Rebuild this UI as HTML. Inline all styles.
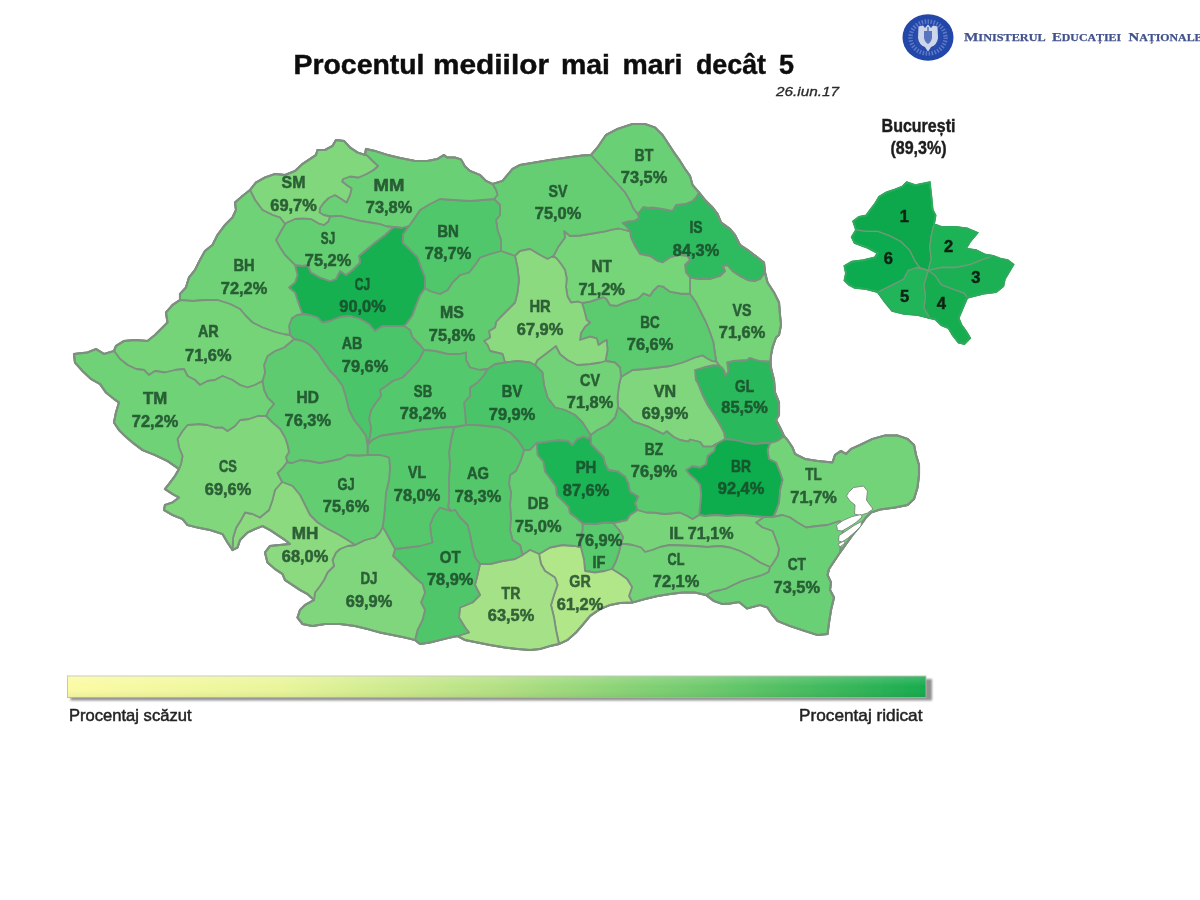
<!DOCTYPE html>
<html lang="ro"><head><meta charset="utf-8"><title>Procentul mediilor mai mari decât 5</title>
<style>html,body{margin:0;padding:0;background:#fff}body{width:1200px;height:900px;position:relative;overflow:hidden;font-family:"Liberation Sans",sans-serif}</style>
</head><body>
<svg width="1200" height="900" viewBox="0 0 1200 900" style="position:absolute;left:0;top:0">
<defs><filter id="bl" x="-5%" y="-5%" width="110%" height="110%"><feGaussianBlur stdDeviation="0.6"/></filter><filter id="bl2" x="-5%" y="-30%" width="110%" height="160%"><feGaussianBlur stdDeviation="1.2"/></filter><linearGradient id="lg" x1="0" y1="0" x2="1" y2="0"><stop offset="0" stop-color="#fbfba4"/><stop offset="0.25" stop-color="#e9f59a"/><stop offset="0.5" stop-color="#b4e083"/><stop offset="0.75" stop-color="#6cc96c"/><stop offset="1" stop-color="#17ab4e"/></linearGradient><linearGradient id="sh" x1="0" y1="0" x2="0" y2="1"><stop offset="0" stop-color="#ffffff" stop-opacity="0.18"/><stop offset="0.5" stop-color="#ffffff" stop-opacity="0"/><stop offset="1" stop-color="#000000" stop-opacity="0.06"/></linearGradient></defs>
<g filter="url(#bl)">
<polygon points="74,354 87.5,352.5 96,349 104,354 114,351 116,346 124,341 135,340 147.5,341 155,335 161,329 167.5,322.5 166,312.5 172.5,305 180,300 180,294 186,287.5 189,277.5 195,270 200,260 205,251 212.5,245 217.5,235 225,225 232.5,217.5 236,210 235,202.5 242.5,196 250,190 256,182.5 265,177.5 275,174 285,175 295,171 302.5,164 310,159 316,155 317.5,150 325,150 332.5,146 336,140 344,141 350,147.5 357.5,152.5 365,155 366,149 375,151 387.5,155 400,158 415,161 427.5,161 437.5,159 444,155 447,157.5 455,157.5 461,159.5 465,166.5 470,171 480,175 486,181 492.5,184 502.5,181 507.5,175 512.5,169 520,165 535,162.5 550,160 567.5,157.5 582.5,155.5 591,155 597.5,147.5 606,135 617.5,129 632.5,124 645,124 655,127.5 662.5,135 667.5,142.5 674,152.5 680,161 685,169 690,176 692.5,185 699,192.5 705,200 712.5,207.5 717.5,214 721,222.5 730,229 735,235 740,245 749,251 757.5,257.5 764,262.5 765,272.5 767.5,282.5 774,292.5 779,302.5 780,315 781,325 779,335 776,337.5 772.5,347.5 771,355 770.5,361.5 771.2,369 774,380 775,392.5 779,402.5 779,415 776,420 780,427.5 784,436 787.5,440 792.5,447.5 795,454 805,459 817.5,461 832.5,462.5 835,455 841,451 846,454 851,449 860,445 872.5,439 885,435.5 897.5,435.5 907.5,439 914,445 916,455 919,465 919,475 917.5,487.5 914,499 907.5,505 895,507.5 880,509.5 871,512.5 866,517.5 860,526 852.5,535 846,544 840,552.5 835,560 829,569 827.5,575 831,582.5 830,590 834,597.5 831,610 829,622.5 827.5,634 817.5,635 805,631 790,626 777.5,621 772.5,615 767.5,607.5 760,605 747,608.5 739,602 730,603.5 722.5,604 714,601 706,595 695,592.5 682.5,592.5 670,594 657.5,596 645,599 632.5,602.5 620,603 610,605 600,609 590,616 582.5,625 576,632.5 567.5,640 559,644 550,646 540,649 530,650 517.5,649 505,647.5 490,645 477.5,642.5 465,640 457.5,636 450,637.5 440,640 430,642.5 420,644 415,640 405,637.5 392.5,635 380,632.5 367.5,629 355,626 340,624 325,624 312.5,626 302.5,624 297.5,617.5 300,610 305,605 314,600 307.5,594 300,590 292.5,585 285,580 282.5,574 275,569 267.5,562.5 265,552.5 270,546 280,545 290,544 285,540 277.5,535 270,530 262.5,526 255,529 247.5,532.5 240,540 237.5,547.5 232.5,550 227.5,542.5 222.5,534 210,530 197.5,527.5 187.5,525 182.5,519 172.5,515 164,510 165,505 172.5,502.5 179,497.5 172.5,494 165,489 169,484 175,476 179,469 167.5,461 155,455 142.5,450 132.5,442.5 125,436 119,430 114,422.5 116,412.5 119,402.5 114,399 106,392.5 100,384 91,379 82.5,371 75,362.5" fill="#6fce77" stroke="#7d907f" stroke-width="2"/>
<g stroke="#7d907f" stroke-width="1.8" stroke-linejoin="round">
<polygon points="770,443 777,441 784,436 787.5,440 792.5,447.5 795,454 805,459 817.5,461 832.5,462.5 835,455 841,451 846,454 851,449 860,445 872.5,439 885,435.5 897.5,435.5 907.5,439 914,445 916,455 919,465 919,475 917.5,487.5 914,499 907.5,505 895,507.5 880,509.5 871,512.5 866,517.5 860,526 852.5,535 846,544 840,552.5 841,540 843,530 840,521 835,522.5 827.5,525 817.5,526 806,527.5 797.5,522.5 790,517.5 782.5,515 773,517 776,511 779,502.5 780,490 782.5,480 780,472.5 776,462.5 769,459 767.5,450" fill="#73d378"/>
<polygon points="773,517 782.5,515 790,517.5 797.5,522.5 806,527.5 817.5,526 827.5,525 835,522.5 840,521 843,530 841,540 840,552.5 835,560 829,569 827.5,575 831,582.5 830,590 834,597.5 831,610 829,622.5 827.5,634 817.5,635 805,631 790,626 777.5,621 772.5,615 767.5,607.5 760,605 747,608.5 739,602 730,603.5 722.5,604 714,601 706,595 713.3,591.3 720,590 726.7,588.3 733,585 740,581.7 748,579 756.7,576.7 762,575 768.5,572 770,567 772.5,564 777.5,556 779,549 776,540 772.5,531 762.5,527.5 756,522.5 764,517" fill="#6bd074"/>
<polygon points="719,365.3 722.8,368.5 724.5,371.5 725.3,375.8 728.3,371.7 727.5,365 727,362.3 733.3,361 746.7,360 750,357.8 755,359.5 760,361 770.5,361.5 771.2,369 774,380 775,392.5 779,402.5 779,415 776,420 780,427.5 784,436 777,441 770,443 765,443 755,444 745,442.5 735,440 725,439 724,432.5 720,425 714,415 707.5,405 702.5,395 697.5,382.5 695.8,380 695,370 703.3,367.5 713.3,365.2" fill="#29b85b"/>
<polygon points="725,439 735,440 745,442.5 755,444 765,443 770,443 767.5,450 769,459 776,462.5 780,472.5 782.5,480 780,490 779,502.5 776,511 773,517 764,517 752.5,516 740,515 727.5,516 715,515 705,516 699,515 700,506 701,495 700,485 695,479 690,475 686,470 692.5,466 700,467.5 706,464 707.5,456 714,451 716,444" fill="#0eac4e"/>
<polygon points="637.5,510 646.5,512.5 652.5,512.5 665,514 680,512.5 687.5,516 692.5,519 699,515 705,516 715,515 727.5,516 740,515 752.5,516 764,517 756,522.5 762.5,527.5 772.5,531 776,540 779,549 777.5,556 772.5,564 770,567 760,562.5 750,556 740,551 730,547.5 720,546 707.5,547 695,546 682.5,545.5 670,545 660,547 652.5,550 645,552 641,547.5 632.5,545 625,544 621,544 623,537 619,530 613,523 620,521.5 626.7,520 630,515" fill="#77d479"/>
<polygon points="621,544 625,544 632.5,545 641,547.5 645,552 652.5,550 660,547 670,545 682.5,545.5 695,546 707.5,547 720,546 730,547.5 740,551 750,556 760,562.5 770,567 768.5,572 762,575 756.7,576.7 748,579 740,581.7 733,585 726.7,588.3 720,590 713.3,591.3 706,595 695,592.5 682.5,592.5 670,594 657.5,596 645,599 632.5,602.5 629,596 632,587 627,579 620,574 612,569 616,561 619,552" fill="#71d277"/>
<polygon points="690,277.5 700,279 710,279 720,276 725,271 722.5,266 727.5,265 732.5,271 740,276 747.5,280 755,281 760,279 765,272.5 767.5,282.5 774,292.5 779,302.5 780,315 781,325 779,335 776,337.5 772.5,347.5 771,355 770.5,361.5 760,361 755,359.5 750,357.8 746.7,360 733.3,361 727,362.3 727.5,365 728.3,371.7 725.3,375.8 724.5,371.5 722.8,368.5 719,365.3 716.3,361.5 715,354 713.3,342 710,332.5 706,322.5 701,312.5 696,302.5 690,294 690,286" fill="#74d378"/>
<polygon points="637.5,214 640.5,210.5 643.5,206.8 648,207.8 652.5,207.5 662.5,209 672.5,211 676,205 685,204 692.5,201 696,197.5 699,192.5 705,200 712.5,207.5 717.5,214 721,222.5 730,229 735,235 740,245 749,251 757.5,257.5 764,262.5 765,272.5 760,279 755,281 747.5,280 740,276 732.5,271 727.5,265 722.5,266 725,271 720,276 710,279 700,279 690,277.5 686,272.5 685,265 690,260 687.5,256 680,255 670,257.5 662.5,262.5 657.5,261 650,256 640,254 635,246 631,237.5 630,231.5 626.5,226.5 622.5,222.8 627.5,221.5 634,221 639,218" fill="#2fbb5e"/>
<polygon points="591,155 597.5,147.5 606,135 617.5,129 632.5,124 645,124 655,127.5 662.5,135 667.5,142.5 674,152.5 680,161 685,169 690,176 692.5,185 699,192.5 696,197.5 692.5,201 685,204 676,205 672.5,211 662.5,209 652.5,207.5 648,207.8 643.5,206.8 640.5,210.5 637.5,214 633,208 630,201 625,192.5 617.5,184 609,175 600,165" fill="#6bd074"/>
<polygon points="621,377 632.5,370 645,369 657.5,367.5 670,366 682.5,362.5 695,357.5 702.5,355.3 707,358.3 711.7,360.8 716.3,361.5 719,365.3 713.3,365.2 703.3,367.5 695,370 695.8,380 697.5,382.5 702.5,395 707.5,405 714,415 720,425 724,432.5 725,439 716,444 711.7,446.7 703.3,446.5 700,442 690,439.5 688.3,441.7 680,440 673.3,436.7 666.7,431.3 663.3,434 648.3,426.7 633.3,421.7 625,413.3 618,407 617.5,397.5 619,385" fill="#7fd67b"/>
<polygon points="582,303 590,301.7 600,298.3 603,297 606.5,299 610,305 616.7,305.8 626.7,301.7 636.7,299.2 640,297 643.3,293.3 650,295.8 653,291 658.3,285.8 663.3,286.7 670,291.7 680,293.5 690,294 696,302.5 701,312.5 706,322.5 710,332.5 713.3,342 715,354 716.3,361.5 711.7,360.8 707,358.3 702.5,355.3 695,357.5 682.5,362.5 670,366 657.5,367.5 645,369 632.5,370 621,377 620,367.5 615,362.5 605.5,361 607.5,350 606.7,340 603,342 598.5,345 596.7,338.3 590,336.7 580,340 581,333 585,326.7 590,322.5 586.7,320 584.2,310" fill="#5ccb6f"/>
<polygon points="553.5,256 558.3,246.7 565,237.5 564,231 570,236 580,235.5 592.5,233.5 605,231.3 613,229.3 619,228.5 625,230 630,231.5 631,237.5 635,246 640,254 650,256 657.5,261 662.5,262.5 670,257.5 680,255 687.5,256 690,260 685,265 686,272.5 690,277.5 690,286 690,294 680,293.5 670,291.7 663.3,286.7 658.3,285.8 653,291 650,295.8 643.3,293.3 640,297 636.7,299.2 626.7,301.7 616.7,305.8 610,305 606.5,299 603,297 600,298.3 590,301.7 582,303 578,301.7 571,302.5 567.5,296.5 566,287 566.7,278.5 565,270 561,264 557,259" fill="#76d479"/>
<polygon points="492.5,184 502.5,181 507.5,175 512.5,169 520,165 535,162.5 550,160 567.5,157.5 582.5,155.5 591,155 600,165 609,175 617.5,184 625,192.5 630,201 633,208 637.5,214 639,218 634,221 627.5,221.5 622.5,222.8 626.5,226.5 630,231.5 625,230 619,228.5 613,229.3 605,231.3 592.5,233.5 580,235.5 570,236 564,231 565,237.5 558.3,246.7 553.5,256 547.5,259 540,255 530,249 520,251 515,256 501,251 501,240 497.5,230 496,220 500,215 500,205 494,199 497.5,195 496,190" fill="#65ce72"/>
<polygon points="618,407 625,413.3 633.3,421.7 648.3,426.7 663.3,434 666.7,431.3 673.3,436.7 680,440 688.3,441.7 690,439.5 700,442 703.3,446.5 711.7,446.7 716,444 714,451 707.5,456 706,464 700,467.5 692.5,466 686,470 690,475 695,479 700,485 701,495 700,506 699,515 692.5,519 687.5,516 680,512.5 665,514 652.5,512.5 646.5,512.5 637.5,510 635,503.3 638.3,496.7 630,491.7 628.3,483.3 625,476.7 618.3,471.7 608.3,470 605,463.3 603.3,456.7 596.7,450 591,444 590.5,435 597.5,430 607.5,425 615,417.5" fill="#5aca6e"/>
<polygon points="582.5,523.5 595,524 605,522.5 613,523 619,530 623,537 621,544 619,552 616,561 612,569 605,571 595,572.5 585,571 584,560 581,547.5 580,538 582.5,530" fill="#5aca6e"/>
<polygon points="539,554 550,547.5 562.5,545 575,546 581,547.5 584,560 585,571 595,572.5 605,571 612,569 620,574 627,579 632,587 629,596 632.5,602.5 620,603 610,605 600,609 590,616 582.5,625 576,632.5 567.5,640 559,644 556,630 554,617.5 551,605 554,595 557.5,585 555,577.5 545,571 541,564" fill="#b1e689"/>
<polygon points="536.7,443 546.7,441.7 558.3,440 568.3,440.8 572.5,445 576.7,439.2 583.3,436.7 588.3,438.5 590.5,435 591,444 596.7,450 603.3,456.7 605,463.3 608.3,470 618.3,471.7 625,476.7 628.3,483.3 630,491.7 638.3,496.7 635,503.3 637.5,510 630,515 626.7,520 620,521.5 613,523 605,522.5 595,524 582.5,523.5 576.7,518.3 570,513.3 568.3,506.7 563.3,501.7 556.7,495 555.8,486.7 550,478.3 545,471.7 543.3,461.7 537.5,455" fill="#1fb556"/>
<polygon points="535,365 537.5,360 547.5,352.5 556,346 560,354 567.5,360 577.5,365 590,364 600,362.5 605.5,361 615,362.5 620,367.5 621,377 619,385 617.5,397.5 618,407 615,417.5 607.5,425 597.5,430 590.5,435 582.5,422.5 575,415 565,410 555,407.5 547.5,397.5 544,385 542.5,372.5" fill="#72d277"/>
<polygon points="515,256 520,251 530,249 540,255 547.5,259 553.5,256 557,259 561,264 565,270 566.7,278.5 566,287 567.5,296.5 571,302.5 578,301.7 582,303 584.2,310 586.7,320 590,322.5 585,326.7 581,333 580,340 590,336.7 596.7,338.3 598.5,345 603,342 606.7,340 607.5,350 605.5,361 600,362.5 590,364 577.5,365 567.5,360 560,354 556,346 547.5,352.5 537.5,360 535,365 530,362.5 517.5,361 505,362.5 502.5,354 490,351 487.5,345 484,341 490,337.5 489,331 495,327.5 496,322 500,317.5 507.5,310 515,302.5 517.5,292.5 519,280 517.5,267.5" fill="#8cda7f"/>
<polygon points="487.5,369 495,364 505,362.5 517.5,361 530,362.5 535,365 542.5,372.5 544,385 547.5,397.5 555,407.5 565,410 575,415 582.5,422.5 590.5,435 588.3,438.5 583.3,436.7 576.7,439.2 572.5,445 568.3,440.8 558.3,440 546.7,441.7 536.7,443 530,450 524,450 517.5,440 510,432.5 500,427.5 485,426 475,425 466,425 465,412.5 464,402.5 470,396 470,387.5 477.5,382.5 484,375" fill="#4ac468"/>
<polygon points="524,450 530,450 536.7,443 537.5,455 543.3,461.7 545,471.7 550,478.3 555.8,486.7 556.7,495 563.3,501.7 568.3,506.7 570,513.3 576.7,518.3 582.5,523.5 582.5,530 580,538 581,547.5 575,546 562.5,545 550,547.5 539,554 530,550 522.5,555 520,545 512.5,540 510,530 511,517.5 510,505 511,492.5 509,484 510,475 516,471 521,460" fill="#65ce72"/>
<polygon points="480,564 490,564 502.5,561 515,559 522.5,555 530,550 539,554 541,564 545,571 555,577.5 557.5,585 554,595 551,605 554,617.5 556,630 559,644 550,646 540,649 530,650 517.5,649 505,647.5 490,645 477.5,642.5 465,640 457.5,636 469,632.5 465,627.5 459,617.5 460,607.5 472.5,602.5 480,595 475,585 477.5,575" fill="#a5e186"/>
<polygon points="454,427 466,425 475,425 485,426 500,427.5 510,432.5 517.5,440 524,450 521,460 516,471 510,475 509,484 511,492.5 510,505 511,517.5 510,530 512.5,540 520,545 522.5,555 515,559 502.5,561 490,564 480,564 475,557.5 472.5,547.5 470,535 467.5,525 460,517.5 455,510 451,511 448,507 449,500 449,490 449,477.5 450,465 449,452.5 451,440" fill="#52c76b"/>
<polygon points="425,288 430,291 440,294 447.5,290 452.5,282.5 460,275 469,272.5 475,265 480,257.5 490,254 501,251 515,256 517.5,267.5 519,280 517.5,292.5 515,302.5 507.5,310 500,317.5 496,322 495,327.5 489,331 490,337.5 484,341 487.5,345 490,351 502.5,354 505,362.5 495,364 487.5,369 480,370 470,367.5 466,360 466,352.5 460,354 447.5,354 435,351 424,350 420,345 412.5,337.5 410,330 404,326 407.5,322 412.5,315 416,305 420,295" fill="#60cc70"/>
<polygon points="409,226 415,217.5 420,210 430,204 440,199 455,200 470,201 482.5,200 494,199 500,205 500,215 496,220 497.5,230 501,240 501,251 490,254 480,257.5 475,265 469,272.5 460,275 452.5,282.5 447.5,290 440,294 430,291 425,288 425,277.5 421,267.5 417.5,257.5 410,250 402.5,242.5 403,234" fill="#50c76b"/>
<polygon points="365,155 366,149 375,151 387.5,155 400,158 415,161 427.5,161 437.5,159 444,155 447,157.5 455,157.5 461,159.5 465,166.5 470,171 480,175 486,181 492.5,184 496,190 497.5,195 494,199 482.5,200 470,201 455,200 440,199 430,204 420,210 415,217.5 409,226 402,228 393.5,227 386.7,226.5 380,224.2 370,222.5 360,220.8 350,218.3 340,215.8 330,216.5 323.5,215 319.5,212.5 320,208 323.5,203 328.5,198 335,195 341.5,199 346.5,202.5 350,195 351.5,188.5 346.5,185 342,181.5 343,179 350,176.5 358.5,177.5 366.5,174 373.5,170 378,166 373,161.5 367,155.5" fill="#6ad074"/>
<polygon points="424,350 435,351 447.5,354 460,354 466,352.5 466,360 470,367.5 480,370 487.5,369 484,375 477.5,382.5 470,387.5 470,396 464,402.5 465,412.5 466,425 454,427 442.5,427.5 430,429 417.5,430 405,432.5 392.5,434 380,436 372.5,440 367.5,445 370,436 371,427.5 369,419 371,410 376,402.5 381,396 380,390 386,386 392.5,381 402.5,377.5 410,370 419,360" fill="#53c86c"/>
<polygon points="395,549 407.5,547.5 420,546 432.5,542.5 431,535 430,525 434,515 440,507.5 445,509 451,511 455,510 460,517.5 467.5,525 470,535 472.5,547.5 475,557.5 480,564 477.5,575 475,585 480,595 472.5,602.5 460,607.5 459,617.5 465,627.5 469,632.5 457.5,636 450,637.5 440,640 430,642.5 420,644 415,640 417.5,630 422.5,620 425,610 421,602.5 425,592.5 422.5,584 415,577.5 407.5,570 400,562.5 393,556" fill="#4fc66a"/>
<polygon points="367.5,445 372.5,440 380,436 392.5,434 405,432.5 417.5,430 430,429 442.5,427.5 454,427 451,440 449,452.5 450,465 449,477.5 449,490 449,500 448,507 451,511 445,509 440,507.5 434,515 430,525 431,535 432.5,542.5 420,546 407.5,547.5 395,549 390,540 386,532.5 382.5,527 384,517.5 385,505 386,492.5 389,480 390,467.5 389,457.5 380,455 367.5,455" fill="#54c86c"/>
<polygon points="295,265 302.5,266 307.5,265 311,272.5 320,277.5 330,281 336,279 340,271 346,275 352.5,270 360,262.5 359,256 366,250 375,242.5 385,235 393.5,227 402,228 409,226 403,234 402.5,242.5 410,250 417.5,257.5 421,267.5 425,277.5 425,288 420,295 416,305 412.5,315 407.5,322 404,326 392.5,326 382.5,326 375,331 369,324 360,319 350,316 340,317 330,321 322.5,322.5 317.5,317.5 310,315 302.5,314 300,307.5 297.5,300 295,292.5 289,287.5 295,282.5 297.5,275" fill="#13b051"/>
<polygon points="302.5,314 310,315 317.5,317.5 322.5,322.5 330,321 340,317 350,316 360,319 369,324 375,331 382.5,326 392.5,326 404,326 410,330 412.5,337.5 420,345 424,350 419,360 410,370 402.5,377.5 392.5,381 386,386 380,390 381,396 376,402.5 371,410 369,419 371,427.5 370,436 367.5,445 366,436 360,427.5 354,420 349,410 346,397.5 342.5,386 336,377 330,371 324,362.5 317.5,352.5 310,345 302.5,341 294,339 290,335 289,326 292,318 297,315" fill="#4bc569"/>
<polygon points="285,224 287,222.5 295,219 303.5,218.3 311.5,219.2 318.5,223.3 324,225 328.3,221.5 330,216.5 340,215.8 350,218.3 360,220.8 370,222.5 380,224.2 386.7,226.5 393.5,227 385,235 375,242.5 366,250 359,256 360,262.5 352.5,270 346,275 340,271 336,279 330,281 320,277.5 311,272.5 307.5,265 302.5,266 295,265 290,260 285,255 280,247.5 276,240 281,231" fill="#64ce72"/>
<polygon points="250,190 256,182.5 265,177.5 275,174 285,175 295,171 302.5,164 310,159 316,155 317.5,150 325,150 332.5,146 336,140 344,141 350,147.5 357.5,152.5 365,155 367,155.5 373,161.5 378,166 373.5,170 366.5,174 358.5,177.5 350,176.5 343,179 342,181.5 346.5,185 351.5,188.5 350,195 346.5,202.5 341.5,199 335,195 328.5,198 323.5,203 320,208 319.5,212.5 323.5,215 330,216.5 328.3,221.5 324,225 318.5,223.3 311.5,219.2 303.5,218.3 295,219 287,222.5 285,224 280,217.5 272.5,215 262.5,210 255,200" fill="#80d77c"/>
<polygon points="180,300 180,294 186,287.5 189,277.5 195,270 200,260 205,251 212.5,245 217.5,235 225,225 232.5,217.5 236,210 235,202.5 242.5,196 250,190 255,200 262.5,210 272.5,215 280,217.5 285,224 281,231 276,240 280,247.5 285,255 290,260 295,265 297.5,275 295,282.5 289,287.5 295,292.5 297.5,300 300,307.5 302.5,314 297,315 292,318 289,326 290,335 285,334.5 275,332 262.5,327.5 252.5,322.5 245,315 240,309 230,304 217.5,300 205,300 192.5,301" fill="#70d277"/>
<polygon points="355,545 365,540 375,537.5 380,532.5 382.5,527 386,532.5 390,540 395,549 393,556 400,562.5 407.5,570 415,577.5 422.5,584 425,592.5 421,602.5 425,610 422.5,620 417.5,630 415,640 405,637.5 392.5,635 380,632.5 367.5,629 355,626 340,624 325,624 312.5,626 302.5,624 297.5,617.5 300,610 305,605 314,600 315,592.5 320,586 324,580 327.5,572.5 334,566 332.5,560 336,552.5 340,549 347.5,546" fill="#7fd67b"/>
<polygon points="287,462 292,463 300,460 310,461 320,463 330,461 340,459 347.5,455 357.5,455.5 367.5,455 380,455 389,457.5 390,467.5 389,480 386,492.5 385,505 384,517.5 382.5,527 380,532.5 375,537.5 365,540 355,545 347.5,540 337.5,534 327.5,529 317.5,522.5 310,515 305,505 300,495 292.5,486 282,482 277.5,473 282.5,468" fill="#62cd71"/>
<polygon points="294,339 302.5,341 310,345 317.5,352.5 324,362.5 330,371 336,377 342.5,386 346,397.5 349,410 354,420 360,427.5 366,436 367.5,445 367.5,455 357.5,455.5 347.5,455 340,459 330,461 320,463 310,461 300,460 292,463 287,462 286,457 289,452 287.5,445 285,437.5 280,429 272.5,422.5 266,416 269,410 274,404 267.5,397.5 264,390 262.5,381 265,372.5 264,365 267.5,356 275,351 284,347.5 290,342.5" fill="#5ecb6f"/>
<polygon points="282,482 292.5,486 300,495 305,505 310,515 317.5,522.5 327.5,529 337.5,534 347.5,540 355,545 347.5,546 340,549 336,552.5 332.5,560 334,566 327.5,572.5 324,580 320,586 315,592.5 314,600 307.5,594 300,590 292.5,585 285,580 282.5,574 275,569 267.5,562.5 265,552.5 270,546 280,545 290,544 285,540 277.5,535 270,530 262.5,526 255,529 247.5,532.5 240,540 237.5,547.5 232.5,550 233,538 236,528 241,520 245,512.5 252.5,514 260,517.5 269,510 272.5,500 275,490" fill="#8bda7f"/>
<polygon points="114,351 116,346 124,341 135,340 147.5,341 155,335 161,329 167.5,322.5 166,312.5 172.5,305 180,300 192.5,301 205,300 217.5,300 230,304 240,309 245,315 252.5,322.5 262.5,327.5 275,332 285,334.5 290,335 294,339 290,342.5 284,347.5 275,351 267.5,356 264,365 265,372.5 262.5,381 255,385 247.5,387.5 240,385 232.5,380 222.5,376 215,380 207.5,381 200,385 195,380 187.5,376 184,369 175,370 165,372.5 155,371 149,375 144,370 136,369 127.5,365 120,359" fill="#74d378"/>
<polygon points="179,469 181,464 182.5,456 179,447.5 177.5,439 182.5,431 187.5,425 199,424 207.5,425 215,427.5 222.5,427.5 227.5,431 235,426 240,420 249,419 257.5,416 266,416 272.5,422.5 280,429 285,437.5 287.5,445 289,452 286,457 287,462 282.5,468 277.5,473 282,482 275,490 272.5,500 269,510 260,517.5 252.5,514 245,512.5 241,520 236,528 233,538 232.5,550 227.5,542.5 222.5,534 210,530 197.5,527.5 187.5,525 182.5,519 172.5,515 164,510 165,505 172.5,502.5 179,497.5 172.5,494 165,489 169,484 175,476" fill="#81d77c"/>
<polygon points="179,469 167.5,461 155,455 142.5,450 132.5,442.5 125,436 119,430 114,422.5 116,412.5 119,402.5 114,399 106,392.5 100,384 91,379 82.5,371 75,362.5 74,354 87.5,352.5 96,349 104,354 114,351 120,359 127.5,365 136,369 144,370 149,375 155,371 165,372.5 175,370 184,369 187.5,376 195,380 200,385 207.5,381 215,380 222.5,376 232.5,380 240,385 247.5,387.5 255,385 262.5,381 264,390 267.5,397.5 274,404 269,410 266,416 257.5,416 249,419 240,420 235,426 227.5,431 222.5,427.5 215,427.5 207.5,425 199,424 187.5,425 182.5,431 177.5,439 179,447.5 182.5,456 181,464" fill="#70d277"/>
</g>
<polygon points="74,354 87.5,352.5 96,349 104,354 114,351 116,346 124,341 135,340 147.5,341 155,335 161,329 167.5,322.5 166,312.5 172.5,305 180,300 180,294 186,287.5 189,277.5 195,270 200,260 205,251 212.5,245 217.5,235 225,225 232.5,217.5 236,210 235,202.5 242.5,196 250,190 256,182.5 265,177.5 275,174 285,175 295,171 302.5,164 310,159 316,155 317.5,150 325,150 332.5,146 336,140 344,141 350,147.5 357.5,152.5 365,155 366,149 375,151 387.5,155 400,158 415,161 427.5,161 437.5,159 444,155 447,157.5 455,157.5 461,159.5 465,166.5 470,171 480,175 486,181 492.5,184 502.5,181 507.5,175 512.5,169 520,165 535,162.5 550,160 567.5,157.5 582.5,155.5 591,155 597.5,147.5 606,135 617.5,129 632.5,124 645,124 655,127.5 662.5,135 667.5,142.5 674,152.5 680,161 685,169 690,176 692.5,185 699,192.5 705,200 712.5,207.5 717.5,214 721,222.5 730,229 735,235 740,245 749,251 757.5,257.5 764,262.5 765,272.5 767.5,282.5 774,292.5 779,302.5 780,315 781,325 779,335 776,337.5 772.5,347.5 771,355 770.5,361.5 771.2,369 774,380 775,392.5 779,402.5 779,415 776,420 780,427.5 784,436 787.5,440 792.5,447.5 795,454 805,459 817.5,461 832.5,462.5 835,455 841,451 846,454 851,449 860,445 872.5,439 885,435.5 897.5,435.5 907.5,439 914,445 916,455 919,465 919,475 917.5,487.5 914,499 907.5,505 895,507.5 880,509.5 871,512.5 866,517.5 860,526 852.5,535 846,544 840,552.5 835,560 829,569 827.5,575 831,582.5 830,590 834,597.5 831,610 829,622.5 827.5,634 817.5,635 805,631 790,626 777.5,621 772.5,615 767.5,607.5 760,605 747,608.5 739,602 730,603.5 722.5,604 714,601 706,595 695,592.5 682.5,592.5 670,594 657.5,596 645,599 632.5,602.5 620,603 610,605 600,609 590,616 582.5,625 576,632.5 567.5,640 559,644 550,646 540,649 530,650 517.5,649 505,647.5 490,645 477.5,642.5 465,640 457.5,636 450,637.5 440,640 430,642.5 420,644 415,640 405,637.5 392.5,635 380,632.5 367.5,629 355,626 340,624 325,624 312.5,626 302.5,624 297.5,617.5 300,610 305,605 314,600 307.5,594 300,590 292.5,585 285,580 282.5,574 275,569 267.5,562.5 265,552.5 270,546 280,545 290,544 285,540 277.5,535 270,530 262.5,526 255,529 247.5,532.5 240,540 237.5,547.5 232.5,550 227.5,542.5 222.5,534 210,530 197.5,527.5 187.5,525 182.5,519 172.5,515 164,510 165,505 172.5,502.5 179,497.5 172.5,494 165,489 169,484 175,476 179,469 167.5,461 155,455 142.5,450 132.5,442.5 125,436 119,430 114,422.5 116,412.5 119,402.5 114,399 106,392.5 100,384 91,379 82.5,371 75,362.5" fill="none" stroke="#7d907f" stroke-width="2.2" stroke-linejoin="round"/>
<polygon points="848.5,492.5 853.5,487.5 863.5,486 867.5,491 866.5,500 870,505 873,509 867.5,513 860,515.5 854.5,514 855,505 850,501 846.5,496" fill="#ffffff" stroke="#7d907f" stroke-width="1"/>
<polygon points="836.5,525 843,520.5 852,516.5 861,514.5 862,517 856,522.5 849,527 842,531 837.5,530.5" fill="#ffffff" stroke="#7d907f" stroke-width="1"/>
<polygon points="839,535.5 846,531 854,525.5 861.5,521.5 861,526 855,532 848,538 842,542 838.5,541" fill="#ffffff" stroke="#7d907f" stroke-width="1"/>
<polygon points="838,544 844,541 845,543 840,547" fill="#ffffff" stroke="#7d907f" stroke-width="1"/>
</g>
<g filter="url(#bl)">
<polygon points="906.6,182.3 915.3,185.2 929.7,182.3 931.2,195.3 932.6,209.7 935.5,215.5 934,224.1 941.3,227 955.7,227 967.2,228.5 977.4,232.8 970.1,241.5 965.8,248.7 975.9,250.1 984.6,254.5 993.2,255.9 1000.4,258.8 1007.7,260.2 1013.4,264.6 1009.1,271.8 1004.8,279 1003.3,286.2 996.1,292 984.6,293.4 973,296.3 967.2,297.8 962.9,307.9 958.6,318 961.5,325.2 965.8,331 970.1,338.2 964.4,344 958.6,342.5 952.8,335.3 948.5,328.1 941.3,325.2 935.5,319.4 929.7,318 918.2,315.1 903.7,313.7 892.2,310.8 885,302.1 877.7,292 866.2,289.1 854.6,287.7 848.9,284.8 844.5,280.4 846,273.2 844.5,266 851.8,261.7 863.3,260.2 874.9,257.4 877.7,253 866.2,247.2 854.6,242.9 851.8,237.1 856.1,229.9 853.2,221.3 859,216.9 866.2,215.5 870.5,209.7 874.9,203.9 879.2,196.7 886.4,192.4 895.1,189.5 902.3,186.6" fill="#10ab4f" stroke="#3aa860" stroke-width="1.5"/>
<polygon points="856.1,229.9 853.2,221.3 859,216.9 866.2,215.5 870.5,209.7 874.9,203.9 879.2,196.7 886.4,192.4 895.1,189.5 902.3,186.6 906.6,182.3 915.3,185.2 929.7,182.3 931.2,195.3 932.6,209.7 935.5,215.5 934,224.1 931.2,235.7 929.7,247.2 931.2,258.8 928.3,270.3 919.6,267.5 915.3,261.7 909.5,250.1 900.8,241.5 889.3,235.7 877.7,231.4 866.2,231.4" fill="#08a84c" stroke="#6f9a78" stroke-width="1.3" stroke-linejoin="round"/>
<polygon points="934,224.1 941.3,227 955.7,227 967.2,228.5 977.4,232.8 970.1,241.5 965.8,248.7 975.9,250.1 984.6,254.5 993.2,255.9 984.6,258.8 970.1,264.6 955.7,267.5 941.3,267.5 928.3,270.3 931.2,258.8 929.7,247.2 931.2,235.7" fill="#1fb256" stroke="#6f9a78" stroke-width="1.3" stroke-linejoin="round"/>
<polygon points="993.2,255.9 1000.4,258.8 1007.7,260.2 1013.4,264.6 1009.1,271.8 1004.8,279 1003.3,286.2 996.1,292 984.6,293.4 973,296.3 967.2,297.8 964.4,293.4 952.8,289.1 941.3,284.8 935.5,276.1 928.3,270.3 941.3,267.5 955.7,267.5 970.1,264.6 984.6,258.8" fill="#1bb054" stroke="#6f9a78" stroke-width="1.3" stroke-linejoin="round"/>
<polygon points="967.2,297.8 962.9,307.9 958.6,318 961.5,325.2 965.8,331 970.1,338.2 964.4,344 958.6,342.5 952.8,335.3 948.5,328.1 941.3,325.2 935.5,319.4 929.7,318 923.9,307.9 925.4,296.3 923.9,284.8 928.3,270.3 935.5,276.1 941.3,284.8 952.8,289.1 964.4,293.4" fill="#15ad51" stroke="#6f9a78" stroke-width="1.3" stroke-linejoin="round"/>
<polygon points="929.7,318 918.2,315.1 903.7,313.7 892.2,310.8 885,302.1 877.7,292 892.2,284.8 903.7,279 908.1,270.3 916.7,267.5 928.3,270.3 923.9,284.8 925.4,296.3 923.9,307.9" fill="#24b458" stroke="#6f9a78" stroke-width="1.3" stroke-linejoin="round"/>
<polygon points="877.7,292 866.2,289.1 854.6,287.7 848.9,284.8 844.5,280.4 846,273.2 844.5,266 851.8,261.7 863.3,260.2 874.9,257.4 877.7,253 866.2,247.2 854.6,242.9 851.8,237.1 856.1,229.9 866.2,231.4 877.7,231.4 889.3,235.7 900.8,241.5 909.5,250.1 915.3,261.7 919.6,267.5 928.3,270.3 916.7,267.5 908.1,270.3 903.7,279 892.2,284.8" fill="#10ab4f" stroke="#6f9a78" stroke-width="1.3" stroke-linejoin="round"/>
<polygon points="906.6,182.3 915.3,185.2 929.7,182.3 931.2,195.3 932.6,209.7 935.5,215.5 934,224.1 941.3,227 955.7,227 967.2,228.5 977.4,232.8 970.1,241.5 965.8,248.7 975.9,250.1 984.6,254.5 993.2,255.9 1000.4,258.8 1007.7,260.2 1013.4,264.6 1009.1,271.8 1004.8,279 1003.3,286.2 996.1,292 984.6,293.4 973,296.3 967.2,297.8 962.9,307.9 958.6,318 961.5,325.2 965.8,331 970.1,338.2 964.4,344 958.6,342.5 952.8,335.3 948.5,328.1 941.3,325.2 935.5,319.4 929.7,318 918.2,315.1 903.7,313.7 892.2,310.8 885,302.1 877.7,292 866.2,289.1 854.6,287.7 848.9,284.8 844.5,280.4 846,273.2 844.5,266 851.8,261.7 863.3,260.2 874.9,257.4 877.7,253 866.2,247.2 854.6,242.9 851.8,237.1 856.1,229.9 853.2,221.3 859,216.9 866.2,215.5 870.5,209.7 874.9,203.9 879.2,196.7 886.4,192.4 895.1,189.5 902.3,186.6" fill="none" stroke="#2faa5c" stroke-width="2"/>
</g>
<g><rect x="70.5" y="679" width="861.5" height="21.5" fill="#777" opacity="0.8" filter="url(#bl2)"/><rect x="67.5" y="676" width="858.5" height="21.5" fill="url(#lg)" stroke="#b9b9b0" stroke-width="0.8" filter="url(#bl)"/><rect x="67.5" y="676" width="858.5" height="21.5" fill="url(#sh)"/></g>
<g font-family="'Liberation Sans', sans-serif" font-weight="bold" font-size="16.8" fill="#1a4527" text-anchor="middle" filter="url(#bl)" opacity="0.82" stroke="#1a4527" stroke-width="0.55">
<text transform="translate(293.5,188.2) scale(0.947,1)">SM</text><text transform="translate(293.5,210.7) scale(0.975,1)">69,7%</text>
<text transform="translate(389,191) scale(1.104,1)">MM</text><text transform="translate(389,213.2) scale(0.975,1)">73,8%</text>
<text transform="translate(644,160.7) scale(0.839,1)">BT</text><text transform="translate(644,182.7) scale(0.975,1)">73,5%</text>
<text transform="translate(558,196.7) scale(0.847,1)">SV</text><text transform="translate(558,218.7) scale(0.975,1)">75,0%</text>
<text transform="translate(448,236.5) scale(0.895,1)">BN</text><text transform="translate(448,259) scale(0.975,1)">78,7%</text>
<text transform="translate(328,244.2) scale(0.695,1)">SJ</text><text transform="translate(328,266.2) scale(0.975,1)">75,2%</text>
<text transform="translate(244,270.7) scale(0.873,1)">BH</text><text transform="translate(244,294.2) scale(0.975,1)">72,2%</text>
<text transform="translate(362.5,289.7) scale(0.712,1)">CJ</text><text transform="translate(362.5,311.7) scale(0.975,1)">90,0%</text>
<text transform="translate(696,233.2) scale(0.829,1)">IS</text><text transform="translate(696,255.7) scale(0.975,1)">84,3%</text>
<text transform="translate(601.7,271.7) scale(0.918,1)">NT</text><text transform="translate(601.7,295) scale(0.975,1)">71,2%</text>
<text transform="translate(540,311.7) scale(0.875,1)">HR</text><text transform="translate(540,334.7) scale(0.975,1)">67,9%</text>
<text transform="translate(452,317.7) scale(0.947,1)">MS</text><text transform="translate(452,340.7) scale(0.975,1)">75,8%</text>
<text transform="translate(208.3,337.4) scale(0.857,1)">AR</text><text transform="translate(208.3,360.7) scale(0.975,1)">71,6%</text>
<text transform="translate(352,349.2) scale(0.855,1)">AB</text><text transform="translate(365,372.2) scale(0.975,1)">79,6%</text>
<text transform="translate(650,327.7) scale(0.799,1)">BC</text><text transform="translate(650,349.7) scale(0.975,1)">76,6%</text>
<text transform="translate(742,315.7) scale(0.847,1)">VS</text><text transform="translate(742,337.7) scale(0.975,1)">71,6%</text>
<text transform="translate(590,385.7) scale(0.856,1)">CV</text><text transform="translate(590,407.7) scale(0.975,1)">71,8%</text>
<text transform="translate(665,396.7) scale(0.956,1)">VN</text><text transform="translate(665,418.7) scale(0.975,1)">69,9%</text>
<text transform="translate(744.5,391.7) scale(0.809,1)">GL</text><text transform="translate(744.5,413.2) scale(0.975,1)">85,5%</text>
<text transform="translate(423,396.7) scale(0.788,1)">SB</text><text transform="translate(423,418.7) scale(0.975,1)">78,2%</text>
<text transform="translate(512,396.7) scale(0.88,1)">BV</text><text transform="translate(512,419.7) scale(0.975,1)">79,9%</text>
<text transform="translate(307.8,403) scale(0.924,1)">HD</text><text transform="translate(307.8,426.2) scale(0.975,1)">76,3%</text>
<text transform="translate(155,403.7) scale(1,1)">TM</text><text transform="translate(155,426.7) scale(0.975,1)">72,2%</text>
<text transform="translate(228,471.7) scale(0.764,1)">CS</text><text transform="translate(228,494.7) scale(0.975,1)">69,6%</text>
<text transform="translate(586,472.7) scale(0.887,1)">PH</text><text transform="translate(586,496) scale(0.975,1)">87,6%</text>
<text transform="translate(654,454.7) scale(0.819,1)">BZ</text><text transform="translate(654,477.2) scale(0.975,1)">76,9%</text>
<text transform="translate(741,471.7) scale(0.824,1)">BR</text><text transform="translate(741,493.7) scale(0.975,1)">92,4%</text>
<text transform="translate(813.5,480.2) scale(0.796,1)">TL</text><text transform="translate(813.5,502.7) scale(0.975,1)">71,7%</text>
<text transform="translate(417,477.7) scale(0.843,1)">VL</text><text transform="translate(417,500.7) scale(0.975,1)">78,0%</text>
<text transform="translate(478,478.7) scale(0.878,1)">AG</text><text transform="translate(478,501.7) scale(0.975,1)">78,3%</text>
<text transform="translate(346,489.7) scale(0.768,1)">GJ</text><text transform="translate(346,511.7) scale(0.975,1)">75,6%</text>
<text transform="translate(538.3,509) scale(0.873,1)">DB</text><text transform="translate(538.3,532.3) scale(0.975,1)">75,0%</text>
<text transform="translate(305,538.7) scale(1.02,1)">MH</text><text transform="translate(305,561.7) scale(0.975,1)">68,0%</text>
<text transform="translate(676,564.9) scale(0.756,1)">CL</text><text transform="translate(676,587.2) scale(0.975,1)">72,1%</text>
<text transform="translate(796.8,570.1) scale(0.814,1)">CT</text><text transform="translate(796.8,592.5) scale(0.975,1)">73,5%</text>
<text transform="translate(450.2,563) scale(0.893,1)">OT</text><text transform="translate(450.2,585.2) scale(0.975,1)">78,9%</text>
<text transform="translate(369,583.7) scale(0.796,1)">DJ</text><text transform="translate(369,606.7) scale(0.975,1)">69,9%</text>
<text transform="translate(511,598.7) scale(0.841,1)">TR</text><text transform="translate(511,620.7) scale(0.975,1)">63,5%</text>
<text transform="translate(580,586.7) scale(0.848,1)">GR</text><text transform="translate(580,609.7) scale(0.975,1)">61,2%</text>
<text transform="translate(701.4,538.6) scale(0.96,1)">IL 71,1%</text>
<text transform="translate(599,545.7) scale(0.975,1)">76,9%</text><text transform="translate(599,567.7) scale(0.866,1)">IF</text>
</g>
<g font-family="'Liberation Sans', sans-serif" font-weight="bold" font-size="16.5" fill="#0c2414" stroke="#0c2414" stroke-width="0.5" text-anchor="middle" filter="url(#bl)">
<text x="904.3" y="222.4">1</text>
<text x="948.5" y="251.9">2</text>
<text x="975.9" y="283.1">3</text>
<text x="941.3" y="309">4</text>
<text x="904.6" y="301.8">5</text>
<text x="888.4" y="264.3">6</text>
</g>
<g font-family="'Liberation Sans', sans-serif" font-weight="bold" font-size="17.8" fill="#1c1c1c" stroke="#1c1c1c" stroke-width="0.4" text-anchor="middle" filter="url(#bl)"><text transform="translate(918.5,131.8) scale(0.9,1)">București</text><text transform="translate(918.5,154) scale(0.9,1)">(89,3%)</text></g>
<g font-family="'Liberation Sans', sans-serif" filter="url(#bl)">
<text y="74" font-weight="bold" font-size="27.5" fill="#0a0a0a" stroke="#0a0a0a" stroke-width="0.4"><tspan x="293.5" textLength="131" lengthAdjust="spacingAndGlyphs">Procentul</tspan> <tspan x="433" textLength="116" lengthAdjust="spacingAndGlyphs">mediilor</tspan> <tspan x="561" textLength="49" lengthAdjust="spacingAndGlyphs">mai</tspan> <tspan x="622.5" textLength="60" lengthAdjust="spacingAndGlyphs">mari</tspan> <tspan x="696" textLength="70" lengthAdjust="spacingAndGlyphs">decât</tspan> <tspan x="779" textLength="15" lengthAdjust="spacingAndGlyphs">5</tspan></text>
<text x="776" y="96" font-style="italic" font-size="13.5" fill="#2a2a2a" stroke="#2a2a2a" stroke-width="0.3" textLength="63" lengthAdjust="spacingAndGlyphs">26.iun.17</text>
<text x="69" y="721.4" font-size="16.2" fill="#222" stroke="#222" stroke-width="0.45" textLength="122.5" lengthAdjust="spacingAndGlyphs">Procentaj scăzut</text>
<text x="799" y="721.4" font-size="16.2" fill="#222" stroke="#222" stroke-width="0.45" textLength="123.5" lengthAdjust="spacingAndGlyphs">Procentaj ridicat</text>
</g>
<g filter="url(#bl)">
<ellipse cx="928" cy="37.5" rx="25.5" ry="23.3" fill="#2146a9"/><ellipse cx="928" cy="37.5" rx="17.5" ry="16" fill="none" stroke="#6f88cf" stroke-width="4.5" stroke-dasharray="1.6 1.4" opacity="0.75"/><ellipse cx="928" cy="37.5" rx="14" ry="13" fill="#2a4dab"/>
<path d="M918.5 26.5 L923 25.5 L925 28 L928 24.5 L931 28 L933 25.5 L937.5 26.5 L938 38 Q937 45 931 47 L928.5 51 L927.5 51 L925 47 Q919 45 918 38 Z" fill="#cfd6ec"/><path d="M924 31 L932 31 L932 38 Q931 42.5 928 44 Q925 42.5 924 38 Z" fill="#5a74bf"/><path d="M927.2 27 L928.8 27 L928.8 31 L927.2 31 Z" fill="#5a74bf"/>
</g>
<text y="41.3" font-family="'Liberation Serif', serif" font-weight="bold" fill="#42528c" stroke="#42528c" stroke-width="0.25" font-size="10.6" filter="url(#bl)"><tspan x="964" textLength="81" lengthAdjust="spacingAndGlyphs"><tspan font-size="13.2">M</tspan>INISTERUL</tspan> <tspan x="1052" textLength="69" lengthAdjust="spacingAndGlyphs"><tspan font-size="13.2">E</tspan>DUCAȚIEI</tspan> <tspan x="1128.5" textLength="74" lengthAdjust="spacingAndGlyphs"><tspan font-size="13.2">N</tspan>AȚIONALE</tspan></text>
</svg>
</body></html>
